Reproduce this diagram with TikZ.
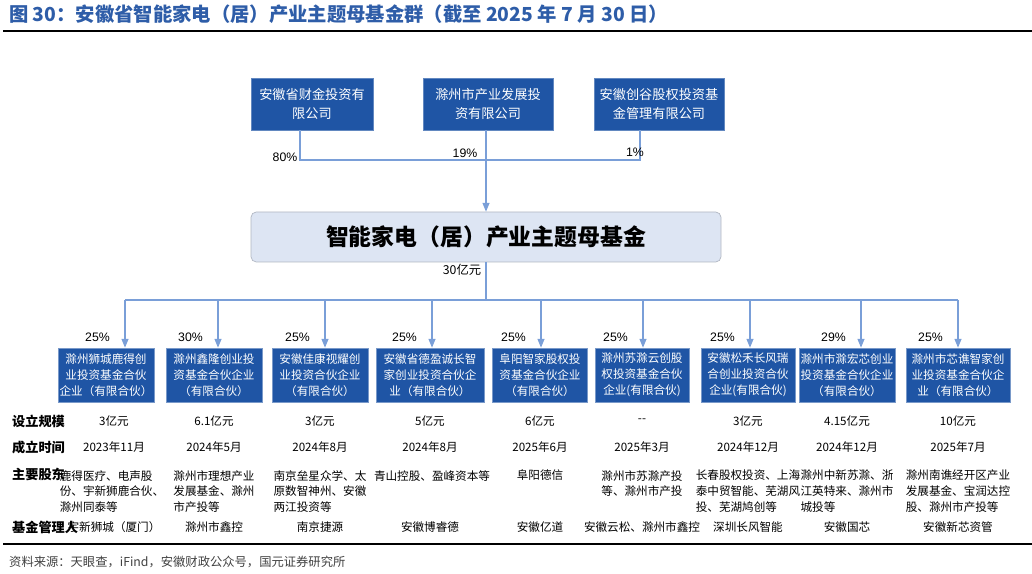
\documentclass[tikz,border=0pt]{standalone}
\usepackage{fontspec}
\setmainfont{Liberation Sans}
\newfontfamily\cjk{Noto Sans CJK SC}
\usetikzlibrary{positioning,arrows.meta}
\definecolor{fundblue}{HTML}{1F55A5}
\definecolor{titleblue}{HTML}{2E5DA8}
\definecolor{mainfill}{HTML}{DDE5F3}
\definecolor{linkblue}{HTML}{7A9FD8}
\tikzstyle{holder}=[rectangle, fill=fundblue, draw=fundblue!70, text=white, font=\cjk\fontsize{7.5}{11}\selectfont, align=center, inner sep=2pt]
\tikzstyle{fund}=[rectangle, fill=fundblue, draw=fundblue!60, text=white, font=\cjk\fontsize{6.6}{9}\selectfont, align=center, inner sep=1pt]
\tikzstyle{link}=[draw=linkblue, line width=0.6]
\tikzstyle{linkarrow}=[link, -{Triangle[width=4pt,length=5pt]}]
\tikzstyle{pct}=[font=\fontsize{7}{8}\selectfont]
\tikzstyle{rowhead}=[font=\cjk\bfseries\fontsize{7.5}{10}\selectfont, anchor=west]
\tikzstyle{cell}=[font=\cjk\fontsize{6.6}{9}\selectfont, align=left]
\begin{document}
\begin{tikzpicture}[x=0.02cm, y=-0.02cm]
  \useasboundingbox (0,0) rectangle (1032,574);
  % title
  \node [anchor=west, text=titleblue, font=\cjk\bfseries\fontsize{11}{13}\selectfont] (title) at (3,14) {图 30：安徽省智能家电（居）产业主题母基金群（截至 2025 年 7 月 30 日）};
  \draw [line width=1.4] (3,31) -- (1032,31);

  % shareholders
  \node [holder, minimum width=122*0.02cm, minimum height=52*0.02cm] (S1) at (312,104) {安徽省财金投资有\\限公司};
  \node [holder, minimum width=130*0.02cm, minimum height=52*0.02cm] (S2) at (488,104) {滁州市产业发展投\\资有限公司};
  \node [holder, minimum width=130*0.02cm, minimum height=52*0.02cm] (S3) at (659,104) {安徽创谷股权投资基\\金管理有限公司};
  \node [rectangle, rounded corners=3pt, fill=mainfill, draw=mainfill!80!black, minimum width=470*0.02cm, minimum height=50*0.02cm, font=\cjk\bfseries\fontsize{13}{15}\selectfont] (M) at (486,237) {智能家电（居）产业主题母基金};

  \coordinate (j1) at (300,160);
  \coordinate (j3) at (640,160);
  \coordinate (j2) at (486,160);
  \draw [link] (S1.south -| j1) -- (j1) -- (j3) -- (S3.south -| j3);
  \draw [linkarrow] (S2.south -| j2) -- (M.north);
  \node [pct] (p80) at (285,157) {80\%};
  \node [pct] (p19) at (465,153) {19\%};
  \node [pct] (p1) at (635,152) {1\%};
  \node [font=\cjk\fontsize{7}{8}\selectfont] (cap) at (462,270) {30亿元};

  \coordinate (hub) at (486,300);
  \draw [link] (M.south) -- (hub);
  \draw [link] (125,300) -- (958,300);

  % funds: center x, arrow x, width, pct, name
  \foreach \i/\cx/\ax/\w/\p/\name in {
    1/106/125/96/25/{滁州狮城鹿得创\\业投资基金合伙\\企业（有限合伙）},
    2/214/218/96/30/{滁州鑫隆创业投\\资基金合伙企业\\（有限合伙）},
    3/320/325/96/25/{安徽佳康视耀创\\业投资合伙企业\\（有限合伙）},
    4/430/432/108/25/{安徽省德盈诚长智\\家创业投资合伙企\\业（有限合伙）},
    5/540/541/95/25/{阜阳智家股权投\\资基金合伙企业\\（有限合伙）},
    6/642/643/94/25/{滁州苏滁云创股\\权投资基金合伙\\企业(有限合伙)},
    7/748/750/94/25/{安徽松禾长风瑞\\合创业投资合伙\\企业(有限合伙)},
    8/847/861/95/29/{滁州市滁宏芯创业\\投资基金合伙企业\\（有限合伙）},
    9/958/958/104/25/{滁州市芯谯智家创\\业投资基金合伙企\\业（有限合伙）}} {
    \node [fund, minimum width=\w*0.02cm, minimum height=54*0.02cm] (F\i) at (\cx,375) {\name};
    \coordinate (top\i) at (\ax,300);
    \draw [linkarrow] (top\i) -- (top\i |- F\i.north);
    \node [pct, anchor=east] (pct\i) at (\ax-9,337) {\p\%};
  }

  % table
  \node [rowhead] (h1) at (6,421) {设立规模};
  \node [rowhead] (h2) at (6,447) {成立时间};
  \node [rowhead] (h3) at (6,474) {主要股东};
  \node [rowhead] (h4) at (6,527) {基金管理人};
  \foreach \i/\cx/\sz/\dt/\mg in {
    1/114/3亿元/2023年11月/宇新狮城（厦门）,
    2/214/6.1亿元/2024年5月/滁州市鑫控,
    3/320/3亿元/2024年8月/南京捷源,
    4/430/5亿元/2024年8月/安徽博睿德,
    5/540/6亿元/2025年6月/安徽亿道,
    6/642/--/2025年3月/安徽云松、滁州市鑫控,
    7/748/3亿元/2024年12月/深圳长风智能,
    8/847/4.15亿元/2024年12月/安徽国芯,
    9/958/10亿元/2025年7月/安徽新芯资管} {
    \node [cell] (sz\i) at (\cx,421) {\sz};
    \node [cell] (dt\i) at (\cx,447) {\dt};
    \node [cell] (mg\i) at (\cx,527) {\mg};
  }
  \foreach \i/\cx/\sh in {
    1/112/{鹿得医疗、电声股\\份、宇新狮鹿合伙、\\滁州同泰等},
    2/214/{滁州市理想产业\\发展基金、滁州\\市产投等},
    3/320/{南京垒星众学、太\\原数智神州、安徽\\两江投资等},
    4/432/{青山控股、盈峰资本等},
    5/540/{阜阳德信},
    6/642/{滁州市苏滁产投\\等、滁州市产投},
    7/748/{长春股权投资、上海\\泰中贸智能、芜湖风\\投、芜湖鸠创等},
    8/847/{滁州中新苏滁、浙\\江英特来、滁州市\\城投等},
    9/958/{滁州南谯经开区产业\\发展基金、宝润达控\\股、滁州市产投等}} {
    \node [cell, anchor=north] (sh\i) at (\cx,464) {\sh};
  }
  \draw [line width=1.4] (3,544) -- (1032,544);
  \node [anchor=west, font=\cjk\fontsize{7}{8}\selectfont, text=black!75] (src) at (3,562) {资料来源：天眼查，iFind，安徽财政公众号，国元证券研究所};
\end{tikzpicture}
\end{document}
